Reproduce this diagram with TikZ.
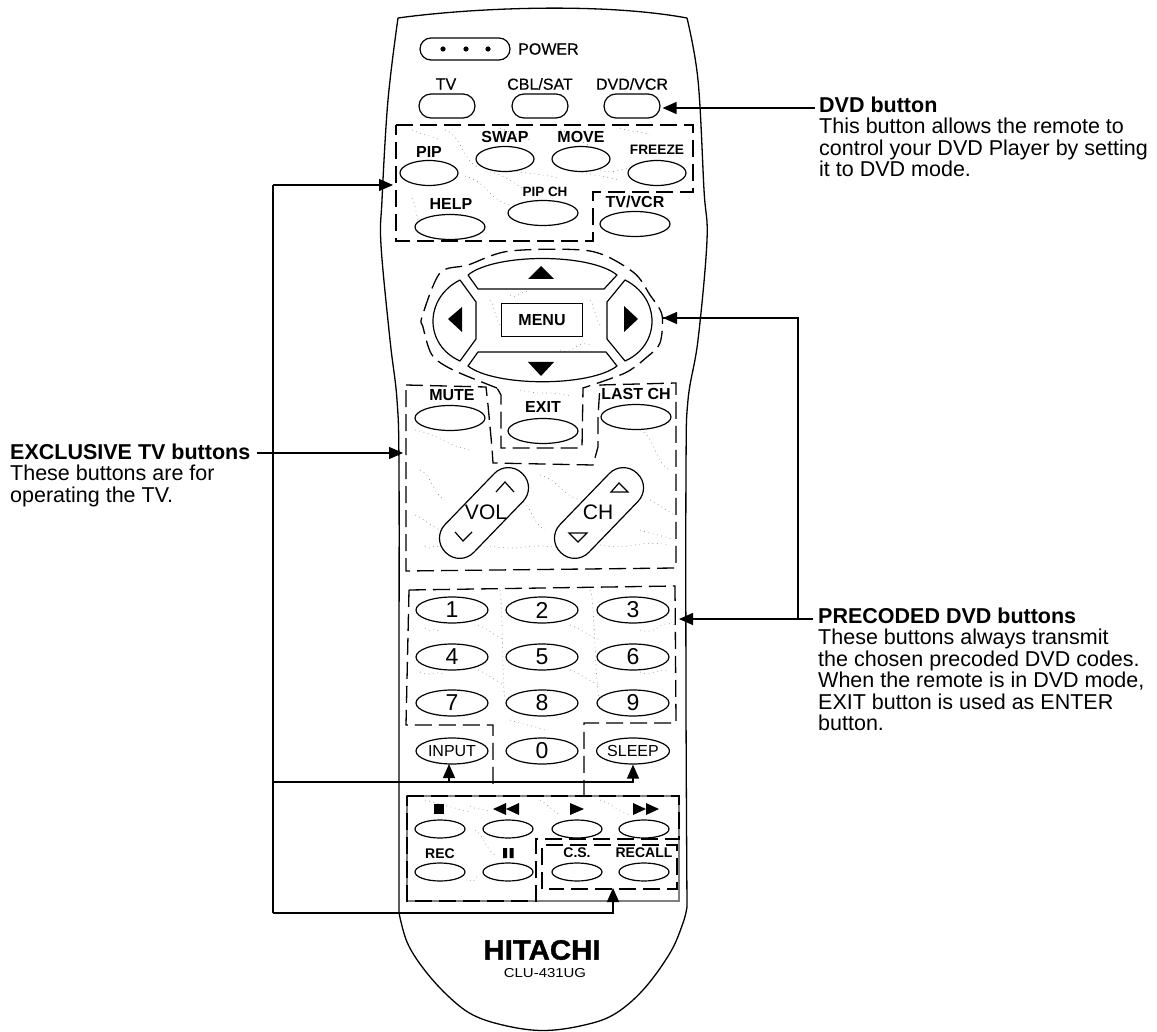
\documentclass[tikz,border=0pt]{standalone}
\usepackage{fontspec}
\setmainfont{Liberation Sans}
\newfontfamily\medf[FakeBold=0.35]{Liberation Sans}
\newfontfamily\heavyf[FakeBold=1.2]{Liberation Sans Bold}
\usetikzlibrary{arrows.meta,shapes.geometric}
\newcommand{\sz}[1]{\fontsize{#1}{#1}\selectfont}
\tikzset{
  x=1pt,y=-1pt,
  btn/.style={draw=black,line width=1.2pt,ellipse,fill=white,inner sep=0pt,minimum width=#1,minimum height=25pt},
  btn/.default=70pt,
  small btn/.style={draw=black,line width=1.2pt,ellipse,fill=white,inner sep=0pt,minimum width=50pt,minimum height=18pt},
  num btn/.style={draw=black,line width=1.2pt,ellipse,fill=white,inner sep=0pt,minimum width=72pt,minimum height=26pt,font=\sz{23}},
  pill btn/.style={draw=black,line width=1.2pt,rounded corners=12pt,fill=white,inner sep=0pt,minimum width=56pt,minimum height=24pt},
  rock btn/.style={draw=black,line width=1.2pt,rounded corners=19.5pt,fill=white,inner sep=0pt,minimum width=110pt,minimum height=40pt,rotate=46},
  lab/.style={inner sep=0pt,font=\medf\sz{16}},
  blab/.style={inner sep=0pt,font=\bfseries\sz{#1}},
  blab/.default=16,
  note/.style={inner sep=0pt,anchor=north west,align=left,font=\sz{21.5}},
  zone/.style={draw=black,line width=1.3pt,dash pattern=on 17pt off 7pt},
  key/.style={draw=black,line width=1.2pt,fill=white,line join=round},
  mark glyph/.style={fill=black,draw=none},
  grain/.style={draw=black!45,line width=.6pt,dash pattern=on .8pt off 3.6pt},
  arr/.style={draw=black,line width=1.4pt,-{Triangle[length=14pt,width=12pt]}},
  wire/.style={draw=black,line width=1.4pt},
}
\begin{document}
\begin{tikzpicture}
\useasboundingbox (0,0) rectangle (1157,1032);
\fill[white] (0,0) rectangle (1157,1032);
% body
\draw[line width=1.3pt,fill=white,line join=round]
  (398,18) .. controls (470,8) and (600,2) .. (687,18)
  plot[smooth,tension=.6] coordinates {(687,18) (698,80) (704,190) (707,240) (698,340) (688,400) (686,470) (686,700) (687,907)}
  plot[smooth,tension=.6] coordinates {(687,907) (683,923) (670,953) (643,990) (613,1015) (580,1026) (543,1030.5) (507,1026) (473,1015) (447,995) (423,968) (407,942) (399,913)}
  plot[smooth,tension=.6] coordinates {(399,913) (399,700) (399,470) (397,400) (390,340) (381,245) (382,200) (388,100) (398,18)};
% transport panel
\draw[draw=black!50,line width=1.2pt] (407,796) rectangle (679,901);
% texture
\foreach \a/\b/\c/\d in {
 412/130/440/140, 445/130/480/168, 465/176/510/205, 490/172/540/195, 495/168/560/178, 560/168/620/180,
 500/128/530/140, 560/130/600/150, 620/128/650/135, 412/198/420/225, 600/170/640/170,
 415/430/470/450, 420/470/445/500, 415/515/440/530, 540/475/580/500, 520/500/545/530,
 640/430/670/470, 650/500/675/515, 640/530/675/540, 425/546/440/548, 490/546/560/548, 600/545/670/545,
 478/625/505/640, 570/625/600/640, 478/670/505/685, 570/670/600/685, 500/590/505/700, 590/590/600/700,
 425/628/440/632, 640/630/676/625, 420/672/445/675, 640/672/670/672, 510/720/545/730,
 425/800/470/812, 470/806/490/812, 540/800/560/815, 600/800/630/815, 475/830/495/855, 470/880/480/878,
 490/300/500/325, 590/300/600/325, 510/295/530/293, 560/350/590/345, 520/390/570/396}
  {\draw[grain] (\a,\b) .. controls ({(\a+\c)/2},{\b+6}) and ({(\a+\c)/2},{\d-6}) .. (\c,\d);}
% dashed zones
\draw[zone] (396,125) -- (693,125) -- (693,192) -- (593,192) -- (593,241) -- (396,241) -- cycle;
\draw[zone] plot[smooth,tension=.5] coordinates {(497,388) (453,370) (432,355) (423,327) (422,317) (440,273) (468,265) (510,251) (590,251) (633,272) (650,295) (662,315) (660,343) (647,357) (625,373) (583,388)}
  -- (582,448) -- (501,448) -- (501,395) -- (497,388);
\draw[zone] (406,385) -- (486,387) -- (488,405) -- (492,448) -- (493,463) -- (593,465) -- (598,447) -- (598,417) -- (600,385) -- (676,383) -- (676,568) -- (406,571) -- cycle;
\draw[zone] (409,590) -- (675,586) -- (676,723) -- (584,723) -- (584,795);
\draw[zone] (409,590) -- (406,725) -- (493,725) -- (493,790);
\draw[zone] (407,796) -- (679,796) -- (679,839) -- (536,839) -- (536,901) -- (407,901) -- cycle;
\draw[zone] (542,889) -- (542,845) -- (677,845) -- (677,889) -- (549,889);
% top buttons
\node[pill btn,minimum width=90pt,minimum height=22pt,rounded corners=11pt] (power) at (465,49) {};
\fill[mark glyph] (443,49) circle (2.6pt) (466,49) circle (2.6pt) (488,49) circle (2.6pt);
\node[lab,anchor=west] (powerl) at (518,49) {POWER};
\node[pill btn] (tv) at (447,106) {};
\node[pill btn] (cbl) at (540,106) {};
\node[pill btn] (dvd) at (632,106) {};
\node[lab] (tvl) at (446,84) {TV};
\node[lab] (cbll) at (540,84) {CBL/SAT};
\node[lab] (dvdl) at (632,84) {DVD/VCR};
% PIP group
\node[btn=58pt] (pip) at (429,173) {};
\node[btn=58pt] (swap) at (505,159) {};
\node[btn=58pt] (move) at (581,159) {};
\node[btn=58pt] (freeze) at (657,173) {};
\node[btn] (help) at (450,227) {};
\node[btn] (pipch) at (543,213) {};
\node[btn] (tvvcr) at (635,224) {};
\node[blab] (pipl) at (429,152) {PIP};
\node[blab] (swapl) at (505,137) {SWAP};
\node[blab] (movel) at (581,137) {MOVE};
\node[blab=13.7] (freezel) at (657,150) {FREEZE};
\node[blab] (helpl) at (451,204) {HELP};
\node[blab=13.5] (pipchl) at (545,192) {PIP CH};
\node[blab] (tvvcrl) at (635,202) {TV/VCR};
% d-pad
\draw[key] (468,275) .. controls (495,253) and (590,253) .. (617,275) -- (604,289) -- (478,289) -- cycle;
\draw[key] (478,352) -- (606,352) -- (617,366) .. controls (590,387) and (495,387) .. (468,366) -- cycle;
\draw[key] (460,280) -- (476,302) -- (476,339) -- (460,361) .. controls (424,345) and (424,298) .. (460,280);
\draw[key] (625,280) .. controls (661,298) and (661,345) .. (625,361) -- (607,339) -- (607,302) -- cycle;
\fill[mark glyph] (541,266) -- (528,279) -- (554,279) -- cycle;
\fill[mark glyph] (528,362) -- (554,362) -- (541,376) -- cycle;
\fill[mark glyph] (448,319) -- (462,307) -- (462,332) -- cycle;
\fill[mark glyph] (638,319) -- (624,306) -- (624,332) -- cycle;
\node[draw=black,line width=1.3pt,minimum width=81pt,minimum height=33pt,inner sep=0pt,font=\bfseries\sz{16}] (menu) at (542,320) {MENU};
% mute row
\node[btn] (mute) at (450,418) {};
\node[btn] (exit) at (543,431) {};
\node[btn] (lastch) at (636,417) {};
\node[blab] (mutel) at (452,395) {MUTE};
\node[blab] (exitl) at (543,407) {EXIT};
\node[blab] (lastchl) at (636,394) {LAST CH};
% rockers
\node[rock btn] (vol) at (484,513) {};
\node[rock btn] (ch) at (599,513) {};
\node[inner sep=0pt,font=\sz{21}] (voll) at (486,512) {VOL};
\node[inner sep=0pt,font=\sz{21}] (chl) at (598,512) {CH};
\draw[line width=1.2pt] (496,492) -- (505,482) -- (514,492);
\draw[line width=1.2pt] (455,532) -- (463,541) -- (472,532);
\draw[line width=1.2pt] (611,492) -- (619,483) -- (628,492) -- cycle;
\draw[line width=1.2pt] (569,533) -- (578,542) -- (587,533) -- cycle;
% numbers
\foreach \n/\xx/\yy in {1/452/610,2/542/610,3/633/610,4/452/657,5/542/657,6/633/657,7/452/703,8/542/703,9/633/703}
  \node[num btn] (n\n) at (\xx,\yy) {\n};
\node[num btn,font=\sz{16}] (input) at (452,751) {INPUT};
\node[num btn] (n0) at (542,751) {0};
\node[num btn,font=\sz{16}] (sleep) at (633,751) {SLEEP};
% transport
\foreach \nm/\xx/\yy in {stop/440/829,rew/508/829,play/577/829,ff/644/829,rec/440/872,pause/508/872,cs/577/872,recall/644/872}
  \node[small btn] (\nm) at (\xx,\yy) {};
\fill[mark glyph] (434,804) rectangle (444,814);
\fill[mark glyph] (493,809) -- (506,803) -- (506,815) -- cycle (506,809) -- (519,803) -- (519,815) -- cycle;
\fill[mark glyph] (570,803) -- (584,809) -- (570,815) -- cycle;
\fill[mark glyph] (633,803) -- (646,809) -- (633,815) -- cycle (646,803) -- (659,809) -- (646,815) -- cycle;
\fill[mark glyph] (503,848) rectangle (507,858) (509.5,848) rectangle (513.5,858);
\node[blab=14] (recl) at (440,854) {REC};
\node[blab=14] (csl) at (577,853) {C.S.};
\node[blab=14] (recalll) at (644,853) {RECALL};
% brand
\node[inner sep=0pt,font=\heavyf\sz{28},xscale=1.05] (brand) at (542,950) {HITACHI};
\node[inner sep=0pt,font=\sz{13},xscale=1.15] (model) at (545,973) {CLU-431UG};
% notes
\node[note] (dvdnote) at (819,96.5) {\textbf{DVD button}\\[.1pt]This button allows the remote to\\control your DVD Player by setting\\it to DVD mode.};
\node[note] (exclnote) at (10,443.5) {\textbf{EXCLUSIVE TV buttons}\\These buttons are for\\operating the TV.};
\node[note] (prenote) at (818,607.5) {\textbf{PRECODED DVD buttons}\\These buttons always transmit\\the chosen precoded DVD codes.\\When the remote is in DVD mode,\\EXIT button is used as ENTER\\button.};
% connectors
\coordinate (dvdfree) at (815,108);
\coordinate (prefree) at (813,619);
\coordinate (prejoin) at (798,619);
\coordinate (numtip) at (679,619);
\coordinate (padtip) at (663,318);
\coordinate (exfree) at (257,453);
\coordinate (extip) at (403,453);
\coordinate (ltop) at (273,185);
\coordinate (pipzone) at (393,185);
\coordinate (lmid) at (273,782);
\coordinate (lbot) at (273,913);
\coordinate (inputtip) at (449,764);
\coordinate (inputjoin) at (449,782);
\coordinate (cstip) at (613,888);
\draw[arr,shorten >=2pt] (dvdfree) -- (dvd.east |- dvdfree);
\draw[arr] (prefree) -- (numtip);
\draw[wire] (prejoin) |- (padtip);
\draw[arr] (prejoin |- padtip) -- (padtip);
\draw[arr] (exfree) -- (extip);
\draw[arr] (lbot) -- (lbot -| cstip) -- (cstip);
\draw[wire] (lbot) -- (ltop);
\draw[arr] (ltop) -- (pipzone);
\draw[arr] (lmid) -| (sleep.south);
\draw[arr] (inputjoin) -- (inputtip);
\end{tikzpicture}
\end{document}
